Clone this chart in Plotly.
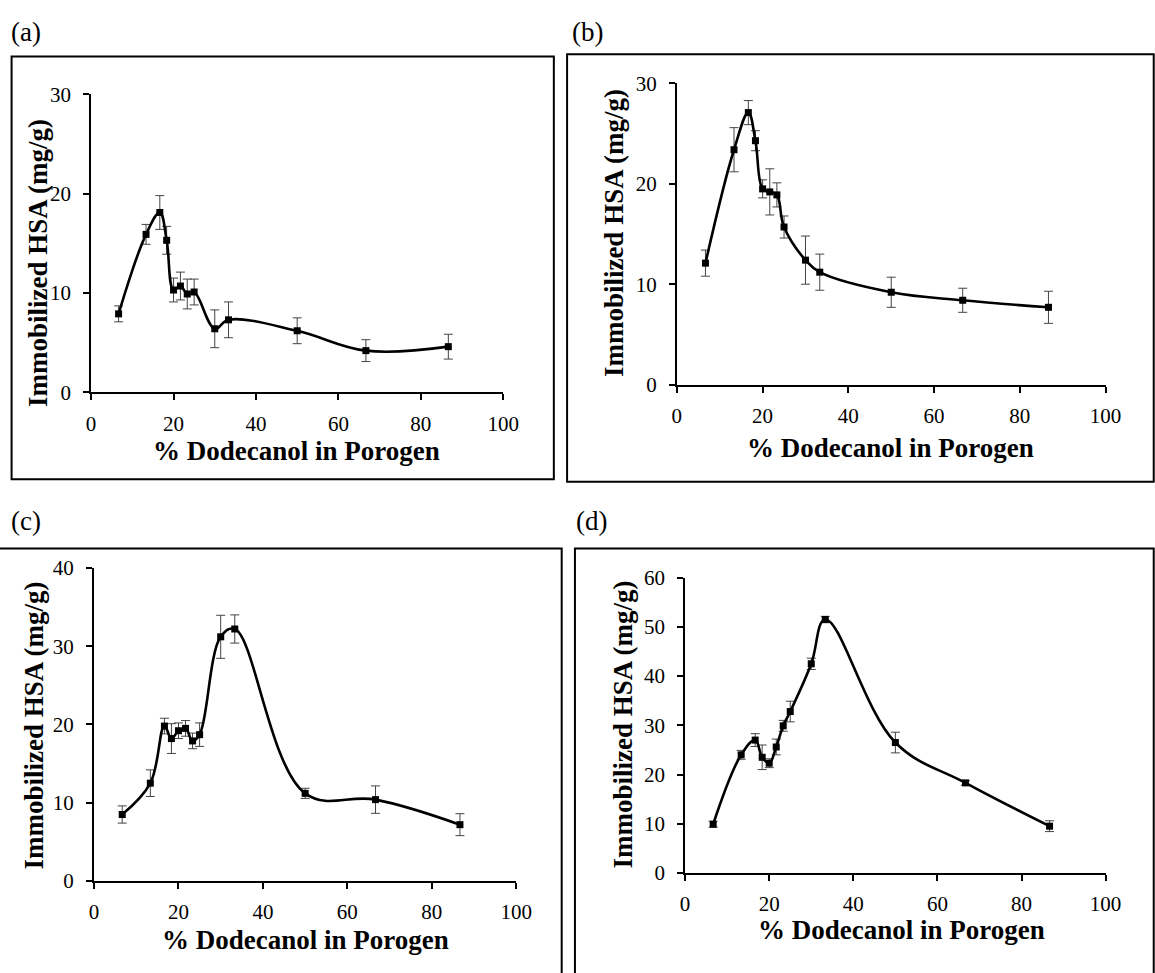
import plotly.graph_objects as go

W, H = 1155, 973

x_pct = [6.67, 13.33, 16.67, 18.33, 20.0, 21.67, 23.33, 25.0, 30.0, 33.33, 50.0, 66.67, 86.67]

a_vals = [7.9, 15.9, 18.1, 15.3, 10.3, 10.7, 9.9, 10.1, 6.4, 7.3, 6.2, 4.2, 4.6]
a_err = [0.8, 1.0, 1.7, 1.4, 1.2, 1.4, 1.5, 1.3, 1.9, 1.8, 1.3, 1.1, 1.25]

b_vals = [12.1, 23.4, 27.1, 24.3, 19.5, 19.2, 18.9, 15.7, 12.4, 11.2, 9.2, 8.4, 7.7]
b_err = [1.3, 2.2, 1.2, 1.0, 0.9, 2.3, 1.2, 1.1, 2.4, 1.8, 1.5, 1.2, 1.6]

c_vals = [8.5, 12.5, 19.8, 18.2, 19.2, 19.5, 17.9, 18.7, 31.2, 32.2, 11.2, 10.4, 7.2]
c_err = [1.1, 1.7, 1.0, 1.9, 1.0, 1.0, 1.0, 1.5, 2.75, 1.8, 0.65, 1.75, 1.4]

d_vals = [9.9, 24.0, 27.0, 23.5, 22.3, 25.6, 29.9, 32.8, 42.5, 51.5, 26.5, 18.3, 9.5]
d_err = [0.6, 0.9, 1.3, 2.5, 0.9, 1.6, 1.1, 2.1, 1.15, 0.65, 2.1, 0.5, 1.1]

panel_labels = ["(a)", "(b)", "(c)", "(d)"]
y_ranges = [30, 30, 40, 60]
x_title = "% Dodecanol in Porogen"
y_title = "Immobilized HSA (mg/g)"

FONT = "Liberation Serif, Times New Roman, serif"


def px(v):
    return v / W


def py(v):
    return 1 - v / H


# plot-area pixel geometry: (x0, x1, y_bottom, y_top)
areas = [
    (87.7, 507.5, 390, 84.3),
    (684.3, 1121, 382, 73.3),
    (90.7, 520.7, 891, 570),
    (692.7, 1121, 882.7, 580),
]
# boxes: (x0, y0, x1, y1) in pixels
boxes = [
    (6.7, 45.7, 559, 479),
    (572.5, 43.3, 1170, 481.7),
    (-10, 550, 567, 990),
    (580.5, 550, 1170, 990),
]
label_pos = [(4, 20), (575, 20), (4, 522), (580, 522)]
ytitle_pos = [(33, 257), (621, 227), (29, 731), (629, 731)]
xtitle_pos = [(297, 450), (902, 447), (306, 951), (913, 941)]

series = [(a_vals, a_err), (b_vals, b_err), (c_vals, c_err), (d_vals, d_err)]

fig = go.Figure()
shapes = []
annotations = []
layout_axes = {}

for i in range(4):
    xa = "x" if i == 0 else f"x{i+1}"
    ya = "y" if i == 0 else f"y{i+1}"
    vals, errs = series[i]
    fig.add_trace(go.Scatter(
        x=x_pct, y=vals, xaxis=xa, yaxis=ya, mode="lines+markers",
        line=dict(color="black", width=2.6, shape="spline", smoothing=1.1),
        marker=dict(symbol="square", size=7, color="black"),
        error_y=dict(type="data", array=errs, visible=True, color="#444",
                     thickness=1, width=4.5),
        showlegend=False, cliponaxis=False,
    ))
    x0, x1, yb, yt = areas[i]
    axis_common = dict(
        showline=True, linecolor="black", linewidth=2,
        ticks="outside", ticklen=6, tickwidth=1.5, tickcolor="black",
        showgrid=False, zeroline=False,
        tickfont=dict(family=FONT, size=21, color="black"),
    )
    layout_axes["xaxis" if i == 0 else f"xaxis{i+1}"] = dict(
        domain=[px(x0), px(x1)], range=[0, 100], dtick=20, tick0=0,
        anchor=ya, ticklabelstandoff=5, **axis_common)
    layout_axes["yaxis" if i == 0 else f"yaxis{i+1}"] = dict(
        domain=[py(yb), py(yt)], range=[0, y_ranges[i]], dtick=10, tick0=0,
        anchor=xa, ticklabelstandoff=8, **axis_common)

    bx0, by0, bx1, by1 = boxes[i]
    shapes.append(dict(type="rect", xref="paper", yref="paper",
                       x0=px(bx0), x1=px(bx1), y0=py(by1), y1=py(by0),
                       line=dict(color="black", width=2), fillcolor="rgba(0,0,0,0)",
                       layer="below"))
    lx, ly = label_pos[i]
    annotations.append(dict(text=panel_labels[i], xref="paper", yref="paper",
                            x=px(lx), y=py(ly), xanchor="left", yanchor="middle",
                            showarrow=False,
                            font=dict(family=FONT, size=27, color="black")))
    tx, ty = ytitle_pos[i]
    annotations.append(dict(text=f"<b>{y_title}</b>", xref="paper", yref="paper",
                            x=px(tx), y=py(ty), xanchor="center", yanchor="middle",
                            textangle=-90, showarrow=False,
                            font=dict(family=FONT, size=27, color="black")))
    tx, ty = xtitle_pos[i]
    annotations.append(dict(text=f"<b>{x_title}</b>", xref="paper", yref="paper",
                            x=px(tx), y=py(ty), xanchor="center", yanchor="middle",
                            showarrow=False,
                            font=dict(family=FONT, size=27, color="black")))

fig.update_layout(
    width=W, height=H, margin=dict(l=0, r=0, t=0, b=0),
    paper_bgcolor="white", plot_bgcolor="white",
    shapes=shapes, annotations=annotations,
    **layout_axes,
)

fig.write_html("out.html")
